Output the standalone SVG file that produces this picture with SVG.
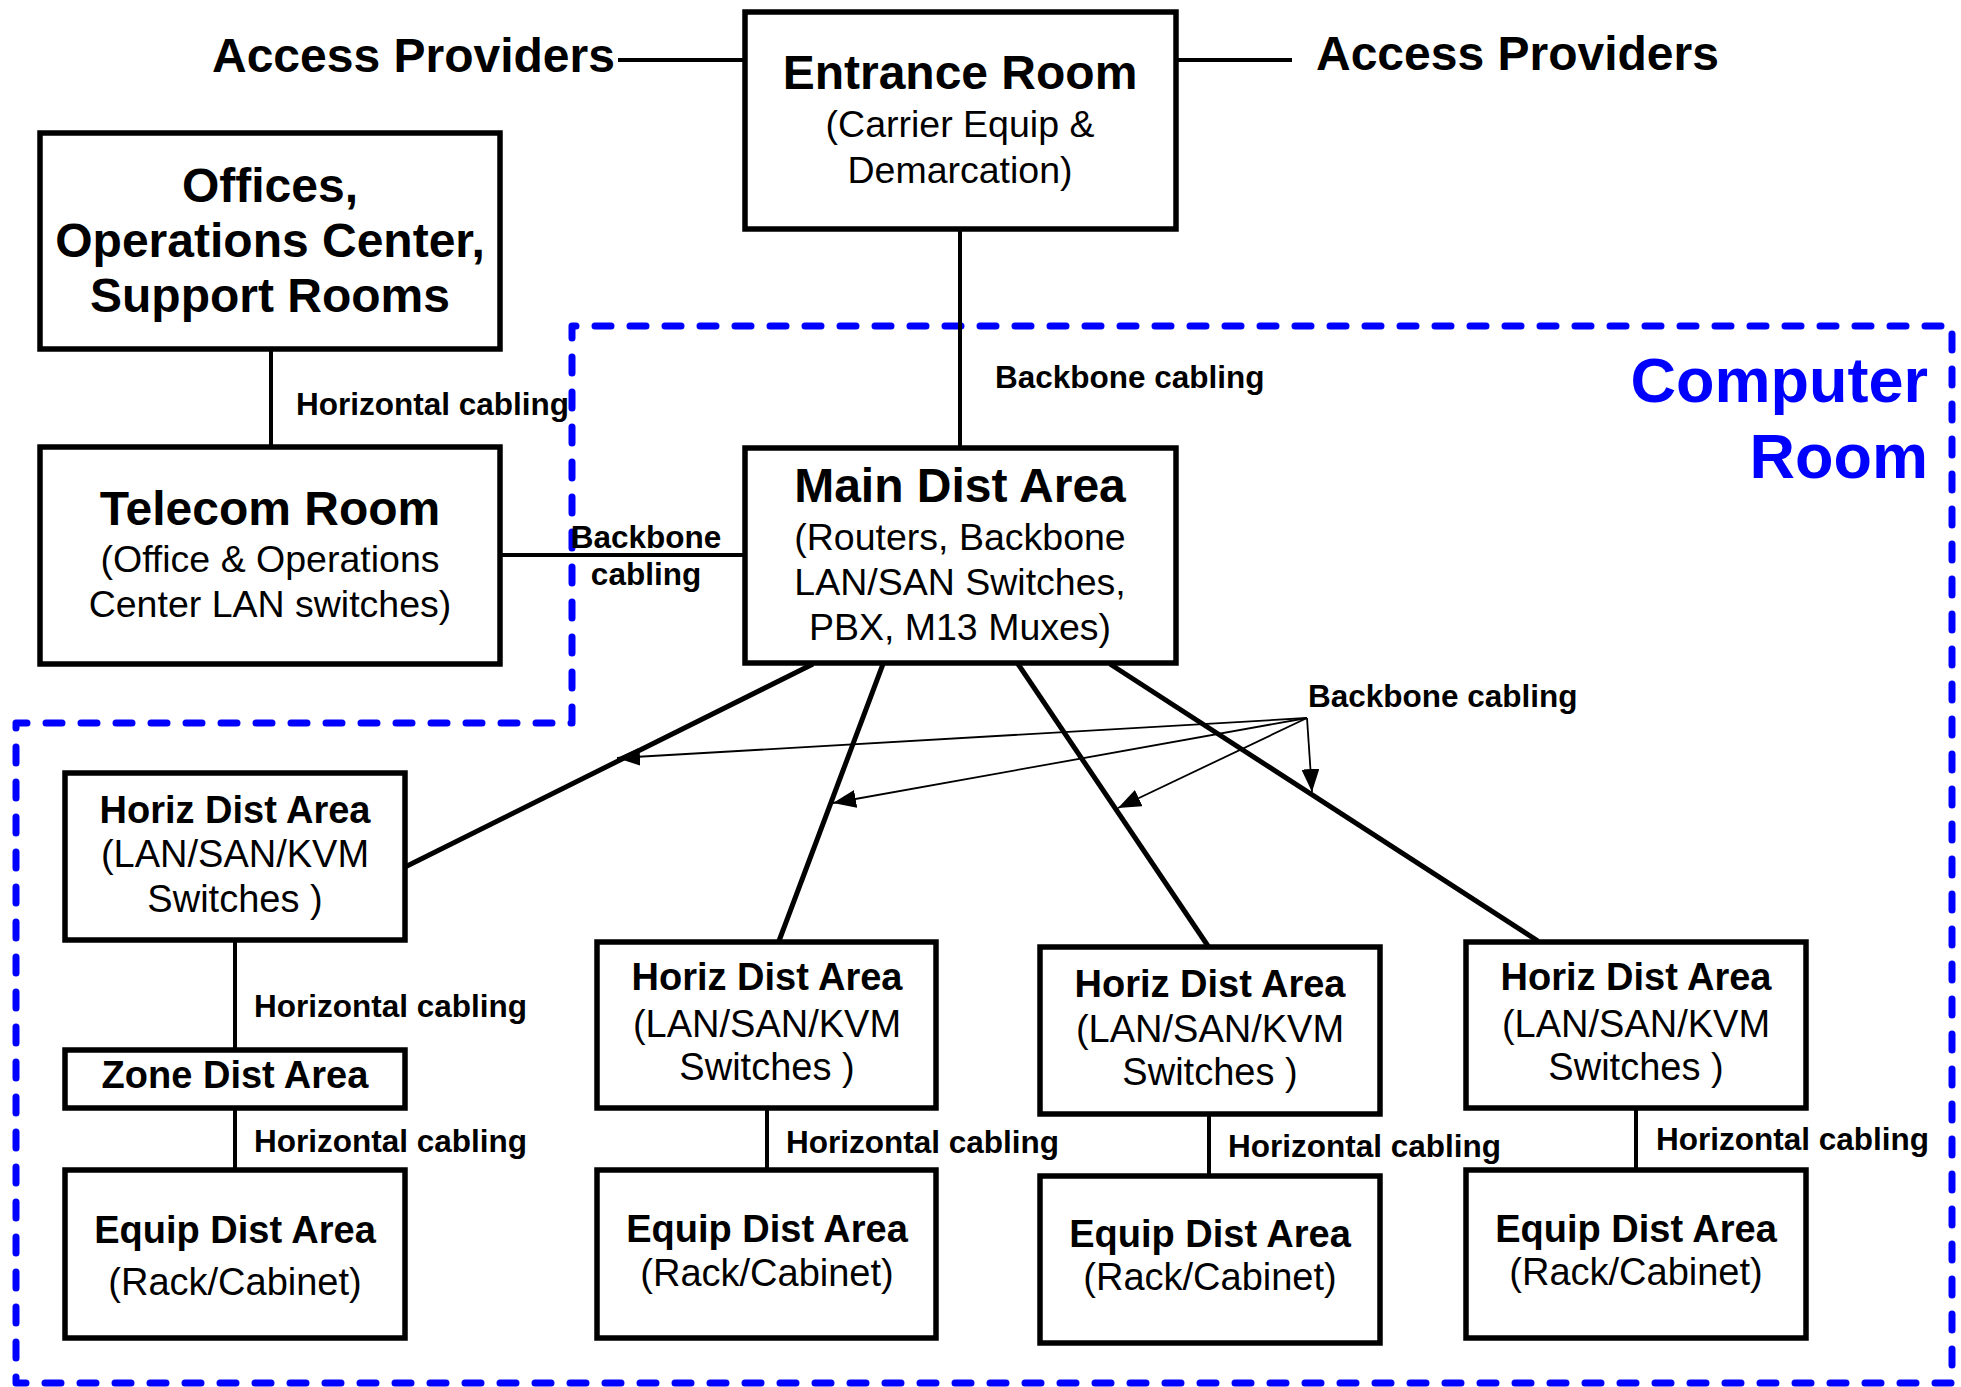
<svg xmlns="http://www.w3.org/2000/svg" width="1961" height="1387" viewBox="0 0 1961 1387">
<defs>
<style>
.box{fill:#fff;stroke:#000;stroke-width:5.5}
.t{font-family:"Liberation Sans",Arial,sans-serif;font-weight:bold;font-size:48px;fill:#000;text-anchor:middle}
.ts{font-family:"Liberation Sans",Arial,sans-serif;font-weight:bold;font-size:38px;fill:#000;text-anchor:middle}
.s{font-family:"Liberation Sans",Arial,sans-serif;font-size:37.5px;fill:#000;text-anchor:middle}
.ss{font-family:"Liberation Sans",Arial,sans-serif;font-size:38px;fill:#000;text-anchor:middle}
.lbl{font-family:"Liberation Sans",Arial,sans-serif;font-weight:bold;font-size:31.5px;fill:#000}
.ap{font-family:"Liberation Sans",Arial,sans-serif;font-weight:bold;font-size:48px;fill:#000}
.cr{font-family:"Liberation Sans",Arial,sans-serif;font-weight:bold;font-size:63px;fill:#0000ff;text-anchor:end}
.c{stroke:#000;stroke-width:4;fill:none}
.thick{stroke:#000;stroke-width:5;fill:none}
.thin{stroke:#000;stroke-width:1.8;fill:none}
.room{stroke:#0000ff;stroke-width:7;fill:none;stroke-dasharray:16 19;stroke-linecap:round;stroke-linejoin:round}
</style>
<marker id="ah" markerUnits="userSpaceOnUse" markerWidth="24" markerHeight="18" refX="23" refY="9" orient="auto">
<path d="M0,0 L23,9 L0,18 Z" fill="#000"/>
</marker>
</defs>
<rect width="1961" height="1387" fill="#fff"/>

<g id="computer-room">
<path class="room" d="M572,723 L572,326 L1952,326 L1952,1383 L16,1383 L16,723 Z"/>
<text class="cr" x="1928" y="402">Computer</text>
<text class="cr" x="1928" y="478">Room</text>
</g>

<g id="connectors">
<line class="c" x1="618" y1="60" x2="745" y2="60"/>
<line class="c" x1="1176" y1="60" x2="1292" y2="60"/>
<line class="c" x1="960" y1="229" x2="960" y2="448"/>
<line class="c" x1="271" y1="349" x2="271" y2="446"/>
<line class="c" x1="500" y1="555" x2="745" y2="555"/>
<line class="thick" x1="813" y1="664" x2="405" y2="867"/>
<line class="thick" x1="883" y1="664" x2="779" y2="941"/>
<line class="thick" x1="1018" y1="664" x2="1208" y2="946"/>
<line class="thick" x1="1110" y1="664" x2="1538" y2="941"/>
<line class="c" x1="235" y1="941" x2="235" y2="1049"/>
<line class="c" x1="235" y1="1109" x2="235" y2="1169"/>
<line class="c" x1="767" y1="1109" x2="767" y2="1169"/>
<line class="c" x1="1209" y1="1115" x2="1209" y2="1175"/>
<line class="c" x1="1636" y1="1109" x2="1636" y2="1169"/>
<line class="thin" x1="1307" y1="718" x2="617" y2="758" marker-end="url(#ah)"/>
<line class="thin" x1="1307" y1="718" x2="833" y2="803" marker-end="url(#ah)"/>
<line class="thin" x1="1307" y1="718" x2="1118" y2="808" marker-end="url(#ah)"/>
<line class="thin" x1="1307" y1="718" x2="1312" y2="792" marker-end="url(#ah)"/>
<text class="ap" x="212" y="72">Access Providers</text>
<text class="ap" x="1316" y="70">Access Providers</text>
<text class="lbl" x="296" y="415">Horizontal cabling</text>
<text class="lbl" x="995" y="388">Backbone cabling</text>
<text class="lbl" x="646" y="548" text-anchor="middle">Backbone</text>
<text class="lbl" x="646" y="585" text-anchor="middle">cabling</text>
<text class="lbl" x="1308" y="707">Backbone cabling</text>
<text class="lbl" x="254" y="1017">Horizontal cabling</text>
<text class="lbl" x="254" y="1152">Horizontal cabling</text>
<text class="lbl" x="786" y="1153">Horizontal cabling</text>
<text class="lbl" x="1228" y="1157">Horizontal cabling</text>
<text class="lbl" x="1656" y="1150">Horizontal cabling</text>
</g>

<g id="entrance-room">
<rect class="box" x="745" y="12" width="431" height="217"/>
<text class="t" x="960" y="89">Entrance Room</text>
<text class="s" x="960" y="137">(Carrier Equip &amp;</text>
<text class="s" x="960" y="183">Demarcation)</text>
</g>

<g id="offices">
<rect class="box" x="40" y="133" width="460" height="216"/>
<text class="t" x="270" y="202">Offices,</text>
<text class="t" x="270" y="257">Operations Center,</text>
<text class="t" x="270" y="312">Support Rooms</text>
</g>

<g id="telecom-room">
<rect class="box" x="40" y="447" width="460" height="217"/>
<text class="t" x="270" y="525">Telecom Room</text>
<text class="s" x="270" y="572">(Office &amp; Operations</text>
<text class="s" x="270" y="617">Center LAN switches)</text>
</g>

<g id="main-dist-area">
<rect class="box" x="745" y="448" width="431" height="215"/>
<text class="t" x="960" y="502">Main Dist Area</text>
<text class="s" x="960" y="550">(Routers, Backbone</text>
<text class="s" x="960" y="595">LAN/SAN Switches,</text>
<text class="s" x="960" y="640">PBX, M13 Muxes)</text>
</g>

<g id="hda-1">
<rect class="box" x="65" y="773" width="340" height="167"/>
<text class="ts" x="235" y="823">Horiz Dist Area</text>
<text class="ss" x="235" y="867">(LAN/SAN/KVM</text>
<text class="ss" x="235" y="912">Switches )</text>
</g>

<g id="zone-dist-area">
<rect class="box" x="65" y="1050" width="340" height="58"/>
<text class="ts" x="235" y="1088">Zone Dist Area</text>
</g>

<g id="eda-1">
<rect class="box" x="65" y="1170" width="340" height="168"/>
<text class="ts" x="235" y="1243">Equip Dist Area</text>
<text class="ss" x="235" y="1295">(Rack/Cabinet)</text>
</g>

<g id="hda-2">
<rect class="box" x="597" y="942" width="339" height="166"/>
<text class="ts" x="767" y="990">Horiz Dist Area</text>
<text class="ss" x="767" y="1037">(LAN/SAN/KVM</text>
<text class="ss" x="767" y="1080">Switches )</text>
</g>

<g id="eda-2">
<rect class="box" x="597" y="1170" width="339" height="168"/>
<text class="ts" x="767" y="1242">Equip Dist Area</text>
<text class="ss" x="767" y="1286">(Rack/Cabinet)</text>
</g>

<g id="hda-3">
<rect class="box" x="1040" y="947" width="340" height="167"/>
<text class="ts" x="1210" y="997">Horiz Dist Area</text>
<text class="ss" x="1210" y="1042">(LAN/SAN/KVM</text>
<text class="ss" x="1210" y="1085">Switches )</text>
</g>

<g id="eda-3">
<rect class="box" x="1040" y="1176" width="340" height="167"/>
<text class="ts" x="1210" y="1247">Equip Dist Area</text>
<text class="ss" x="1210" y="1290">(Rack/Cabinet)</text>
</g>

<g id="hda-4">
<rect class="box" x="1466" y="942" width="340" height="166"/>
<text class="ts" x="1636" y="990">Horiz Dist Area</text>
<text class="ss" x="1636" y="1037">(LAN/SAN/KVM</text>
<text class="ss" x="1636" y="1080">Switches )</text>
</g>

<g id="eda-4">
<rect class="box" x="1466" y="1170" width="340" height="168"/>
<text class="ts" x="1636" y="1242">Equip Dist Area</text>
<text class="ss" x="1636" y="1285">(Rack/Cabinet)</text>
</g>
</svg>
